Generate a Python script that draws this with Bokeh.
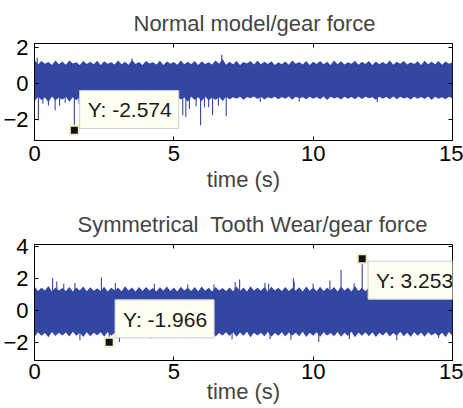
from bokeh.plotting import figure
from bokeh.models import Range1d, FixedTicker, LinearAxis, Label
from bokeh.layouts import column
from bokeh.embed import file_html
from bokeh.resources import INLINE

# ---------------- data ----------------
env_t = [0.0, 0.125, 0.25, 0.375, 0.5, 0.625, 0.75, 0.875,
         1.0, 1.125, 1.25, 1.375, 1.5, 1.625, 1.75, 1.875,
         2.0, 2.125, 2.25, 2.375, 2.5, 2.625, 2.75, 2.875,
         3.0, 3.125, 3.25, 3.375, 3.5, 3.625, 3.75, 3.875,
         4.0, 4.125, 4.25, 4.375, 4.5, 4.625, 4.75, 4.875,
         5.0, 5.125, 5.25, 5.375, 5.5, 5.625, 5.75, 5.875,
         6.0, 6.125, 6.25, 6.375, 6.5, 6.625, 6.75, 6.875,
         7.0, 7.125, 7.25, 7.375, 7.5, 7.625, 7.75, 7.875,
         8.0, 8.125, 8.25, 8.375, 8.5, 8.625, 8.75, 8.875,
         9.0, 9.125, 9.25, 9.375, 9.5, 9.625, 9.75, 9.875,
         10.0, 10.125, 10.25, 10.375, 10.5, 10.625, 10.75, 10.875,
         11.0, 11.125, 11.25, 11.375, 11.5, 11.625, 11.75, 11.875,
         12.0, 12.125, 12.25, 12.375, 12.5, 12.625, 12.75, 12.875,
         13.0, 13.125, 13.25, 13.375, 13.5, 13.625, 13.75, 13.875,
         14.0, 14.125, 14.25, 14.375, 14.5, 14.625, 14.75, 14.875,
         15.0]

normal_upper = [1.34, 1.08, 1.28, 1.12, 1.22, 1.06, 1.30, 1.10,
                1.25, 1.07, 1.31, 1.13, 1.20, 1.05, 1.27, 1.11,
                1.23, 1.09, 1.29, 1.06, 1.26, 1.12, 1.21, 1.08,
                1.30, 1.10, 1.24, 1.07, 1.33, 1.11, 1.22, 1.06,
                1.27, 1.13, 1.20, 1.08, 1.29, 1.05, 1.25, 1.12,
                1.22, 1.07, 1.31, 1.10, 1.24, 1.09, 1.28, 1.06,
                1.26, 1.11, 1.21, 1.08, 1.30, 1.12, 1.39, 1.07,
                1.24, 1.10, 1.28, 1.06, 1.22, 1.13, 1.27, 1.08,
                1.29, 1.09, 1.23, 1.11, 1.26, 1.05, 1.21, 1.10,
                1.25, 1.07, 1.30, 1.12, 1.22, 1.08, 1.27, 1.06,
                1.23, 1.11, 1.28, 1.09, 1.24, 1.06, 1.31, 1.10,
                1.26, 1.08, 1.21, 1.12, 1.29, 1.07, 1.23, 1.11,
                1.28, 1.06, 1.25, 1.10, 1.22, 1.09, 1.30, 1.07,
                1.24, 1.12, 1.27, 1.08, 1.21, 1.11, 1.26, 1.06,
                1.29, 1.09, 1.23, 1.10, 1.27, 1.07, 1.25, 1.12,
                1.20]
normal_lower = [-0.98, -0.72, -0.90, -0.75, -1.02, -0.70, -0.93, -0.76,
                -0.88, -0.71, -0.99, -0.74, -0.91, -0.73, -1.00, -0.70,
                -0.92, -0.76, -0.87, -0.72, -0.97, -0.71, -0.89, -0.75,
                -0.95, -0.70, -0.91, -0.74, -0.86, -0.72, -0.98, -0.73,
                -0.90, -0.75, -0.94, -0.71, -0.88, -0.74, -0.96, -0.70,
                -0.93, -0.72, -0.87, -0.76, -0.99, -0.71, -0.90, -0.74,
                -0.97, -0.70, -0.92, -0.75, -0.89, -0.73, -0.95, -0.72,
                -0.86, -0.74, -0.82, -0.71, -0.88, -0.73, -0.80, -0.70,
                -0.84, -0.72, -0.87, -0.74, -0.81, -0.71, -0.85, -0.73,
                -0.83, -0.70, -0.88, -0.72, -0.80, -0.74, -0.86, -0.71,
                -0.82, -0.73, -0.85, -0.70, -0.89, -0.72, -0.81, -0.74,
                -0.87, -0.71, -0.83, -0.73, -0.86, -0.70, -0.84, -0.72,
                -0.80, -0.74, -0.88, -0.71, -0.82, -0.73, -0.85, -0.70,
                -0.86, -0.72, -0.81, -0.74, -0.87, -0.71, -0.83, -0.73,
                -0.84, -0.70, -0.89, -0.72, -0.82, -0.74, -0.86, -0.71,
                -0.80]
normal_spike_t = [0.10, 0.14, 0.30, 0.50, 0.74, 0.90, 1.10, 1.43, 1.60, 1.80,
                  2.00, 2.30, 2.60, 3.00, 3.30, 3.50, 3.60, 3.90, 4.20, 4.50,
                  4.80, 5.10, 5.32, 5.43, 5.56, 5.80, 5.96, 6.10, 6.25, 6.39,
                  6.60, 6.72, 6.88, 8.10, 9.50, 12.30]
normal_spike_y = [1.45, -2.03, -1.10, -1.20, -1.47, -1.20, -1.05, -2.574, -1.10, -1.15,
                  -1.25, -1.00, -1.10, -1.05, -1.15, 1.42, -1.10, -1.10, -1.00, -1.20,
                  -1.05, -1.15, -1.75, -1.84, -1.40, -1.25, -2.30, -1.30, -1.30, -1.75,
                  -1.20, 1.62, -1.80, -1.00, -0.98, -1.00]

sym_upper = [1.52, 1.24, 1.45, 1.28, 1.55, 1.22, 1.47, 1.27,
             1.43, 1.25, 1.50, 1.21, 1.46, 1.28, 1.53, 1.23,
             1.48, 1.26, 1.42, 1.24, 1.51, 1.22, 1.45, 1.29,
             1.44, 1.23, 1.54, 1.27, 1.47, 1.21, 1.49, 1.25,
             1.50, 1.28, 1.43, 1.22, 1.48, 1.26, 1.52, 1.24,
             1.46, 1.21, 1.51, 1.27, 1.44, 1.25, 1.49, 1.23,
             1.53, 1.26, 1.45, 1.22, 1.50, 1.28, 1.43, 1.24,
             1.47, 1.23, 1.52, 1.25, 1.46, 1.21, 1.54, 1.27,
             1.44, 1.26, 1.49, 1.22, 1.51, 1.28, 1.45, 1.24,
             1.50, 1.25, 1.43, 1.27, 1.48, 1.21, 1.53, 1.26,
             1.46, 1.23, 1.51, 1.24, 1.44, 1.28, 1.49, 1.22,
             1.52, 1.27, 1.47, 1.21, 1.55, 1.25, 1.45, 1.23,
             1.48, 1.24, 1.53, 1.26, 1.43, 1.22, 1.50, 1.28,
             1.45, 1.21, 1.49, 1.27, 1.52, 1.24, 1.46, 1.25,
             1.51, 1.23, 1.44, 1.28, 1.48, 1.26, 1.53, 1.22,
             1.47]
sym_lower = [-1.62, -1.34, -1.55, -1.38, -1.64, -1.32, -1.57, -1.36,
             -1.53, -1.35, -1.60, -1.31, -1.56, -1.37, -1.63, -1.33,
             -1.58, -1.36, -1.52, -1.34, -1.61, -1.32, -1.55, -1.38,
             -1.54, -1.33, -1.64, -1.37, -1.57, -1.31, -1.59, -1.35,
             -1.60, -1.38, -1.53, -1.32, -1.58, -1.36, -1.62, -1.34,
             -1.56, -1.31, -1.61, -1.37, -1.54, -1.35, -1.59, -1.33,
             -1.63, -1.36, -1.55, -1.32, -1.60, -1.38, -1.53, -1.34,
             -1.57, -1.33, -1.62, -1.35, -1.56, -1.31, -1.64, -1.37,
             -1.54, -1.36, -1.59, -1.32, -1.61, -1.38, -1.55, -1.34,
             -1.60, -1.35, -1.53, -1.37, -1.58, -1.31, -1.63, -1.36,
             -1.56, -1.33, -1.61, -1.34, -1.54, -1.38, -1.59, -1.32,
             -1.62, -1.37, -1.57, -1.31, -1.64, -1.35, -1.55, -1.33,
             -1.58, -1.34, -1.63, -1.36, -1.53, -1.32, -1.60, -1.38,
             -1.55, -1.31, -1.59, -1.37, -1.62, -1.34, -1.56, -1.35,
             -1.61, -1.33, -1.54, -1.38, -1.58, -1.36, -1.63, -1.32,
             -1.57]
sym_spike_t = [0.65, 0.80, 1.05, 1.45, 1.63, 2.40, 2.68, 2.90, 3.05, 4.17,
               4.30, 5.50, 5.80, 6.44, 7.09, 7.20, 7.36, 8.27, 8.40, 8.45,
               9.20, 9.29, 9.32, 10.00, 10.20, 10.60, 11.00, 11.30, 11.47, 11.76,
               12.30, 13.00, 13.50, 14.50, 14.60]
sym_spike_y = [2.04, 1.83, 1.70, 1.75, -1.83, 2.08, -1.966, 1.75, -1.94, -1.72,
               1.70, 1.65, -1.70, 1.65, -1.78, 1.80, 1.96, 1.75, 1.70, -1.75,
               -1.80, 2.04, 1.83, 1.70, -1.94, 1.90, 2.57, -1.75, 1.73, 3.253,
               1.70, -1.84, 1.65, -1.70, 1.70]

normal_tip_t = [1.43]
normal_tip_y = [-2.574]
sym_tip_t = [2.68, 11.76]
sym_tip_y = [-1.966, 3.253]

x_ticks = [0, 5, 10, 15]
normal_y_ticks = [-2, 0, 2]
sym_y_ticks = [-2, 0, 2, 4]

titles = ["Normal model/gear force", "Symmetrical\u00a0 Tooth Wear/gear force"]
x_label = "time (s)"

# ---------------- styling ----------------
BLUE = "#3346A1"
FONT = "Liberation Sans"
FS = "22px"
TIP_FS = "21px"


def make_panel(title, title_offset, height, top_b, bottom_b, y_range, y_ticks,
               tick_standoff, lab_standoff, up, lo, sp_t, sp_y, tip_t, tip_y):
    p = figure(width=463, height=height, output_backend="svg", toolbar_location=None,
               x_range=Range1d(0, 15), y_range=Range1d(*y_range),
               min_border_left=31, min_border_right=11,
               min_border_top=top_b, min_border_bottom=bottom_b,
               title=title)
    p.title.text_font = FONT
    p.title.text_font_size = FS
    p.title.text_font_style = "normal"
    p.title.align = "left"
    p.title.offset = title_offset
    p.title.standoff = 15
    p.background_fill_color = "white"
    p.border_fill_color = "white"
    p.outline_line_color = "black"
    p.outline_line_width = 1
    p.xgrid.visible = False
    p.ygrid.visible = False

    for ax in (p.xaxis[0], p.yaxis[0]):
        ax.major_tick_in = 4
        ax.major_tick_out = 0
        ax.minor_tick_in = 0
        ax.minor_tick_out = 0
        ax.axis_line_color = "black"
        ax.major_tick_line_color = "black"
        ax.major_label_text_font = FONT
        ax.major_label_text_font_size = FS
        ax.major_label_text_color = "black"
    p.xaxis[0].ticker = FixedTicker(ticks=x_ticks)
    p.yaxis[0].ticker = FixedTicker(ticks=y_ticks)
    p.xaxis[0].major_label_standoff = tick_standoff
    p.yaxis[0].major_label_standoff = 6
    p.xaxis[0].axis_label = x_label
    p.xaxis[0].axis_label_text_font = FONT
    p.xaxis[0].axis_label_text_font_size = FS
    p.xaxis[0].axis_label_text_font_style = "normal"
    p.xaxis[0].axis_label_standoff = lab_standoff

    # tick marks on the top and right sides (MATLAB box), no labels
    top_ax = LinearAxis(ticker=FixedTicker(ticks=x_ticks), major_tick_in=4, major_tick_out=0,
                        minor_tick_in=0, minor_tick_out=0, major_label_text_font_size="1px",
                        major_label_text_color=None,
                        major_label_overrides={t: "" for t in x_ticks},
                        major_label_standoff=0, axis_line_color=None)
    right_ax = LinearAxis(ticker=FixedTicker(ticks=y_ticks), major_tick_in=4, major_tick_out=0,
                          minor_tick_in=0, minor_tick_out=0, major_label_text_font_size="1px",
                          major_label_text_color=None,
                          major_label_overrides={t: "" for t in y_ticks},
                          major_label_standoff=0, axis_line_color=None)
    p.add_layout(top_ax, "above")
    p.add_layout(right_ax, "right")

    # signal band and spikes
    p.varea(x=env_t, y1=lo, y2=up, fill_color=BLUE, fill_alpha=1.0)
    p.segment(x0=sp_t, y0=[0] * len(sp_t), x1=sp_t, y1=sp_y, line_color=BLUE, line_width=1.1)

    # data-tip markers
    p.scatter(x=tip_t, y=tip_y, marker="square", size=9, fill_color="#111111",
              line_color="#F4F0C6", line_width=2)
    return p


p1 = make_panel(titles[0], 99, 198, 43, 58, (-3.15, 2.25), normal_y_ticks, 5, 3,
                normal_upper, normal_lower, normal_spike_t, normal_spike_y,
                normal_tip_t, normal_tip_y)
p2 = make_panel(titles[1], 43, 210, 46, 48, (-3.1, 4.15), sym_y_ticks, 3, -3,
                sym_upper, sym_lower, sym_spike_t, sym_spike_y,
                sym_tip_t, sym_tip_y)


def tip_label(p, x, y, text):
    lab = Label(x=x, y=y, x_units="data", y_units="data", text=text,
                text_font=FONT, text_font_size=TIP_FS, text_color="#1a1a1a",
                text_align="left", text_baseline="bottom",
                background_fill_color="#FFFFF2", background_fill_alpha=1.0,
                border_line_color="#CFCFCF", border_line_width=1,
                padding=(8, 7, 8, 7))
    p.add_layout(lab)


tip_label(p1, 1.62, -2.48, "Y: " + f"{normal_tip_y[0]:.3f}")
tip_label(p2, 2.89, -1.68, "Y: " + f"{sym_tip_y[0]:.3f}")
tip_label(p2, 11.97, 0.73, "Y: " + f"{sym_tip_y[1]:.3f}")

layout = column(p1, p2, spacing=0)
open("out.html", "w").write(file_html(layout, INLINE))
